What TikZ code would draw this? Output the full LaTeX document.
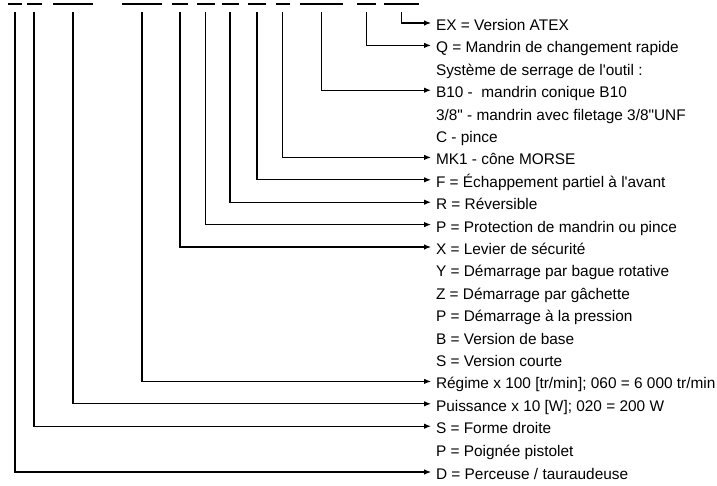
\documentclass[tikz,border=0pt]{standalone}
\usepackage{fontspec}
\setmainfont{Liberation Sans}
\usepackage{tikz}
\usetikzlibrary{arrows.meta, positioning}

\tikzset{
  bar/.style={fill=black, inner sep=0pt, outer sep=0pt, minimum height=2pt},
  lbl/.style={anchor=west, inner xsep=5pt, inner ysep=0pt, outer sep=0pt,
    text height=15pt, text depth=0pt, font=\fontsize{15.4pt}{18pt}\selectfont},
  lead/.style={line width=1.1pt, -{Latex[length=7pt,width=5.5pt]}}
}

\begin{document}
\begin{tikzpicture}[x=1pt, y=-1pt]
  \useasboundingbox (0,0) rectangle (717,485);

  % Code positions
  \node[bar, minimum width=14.7pt] (d1) at (15,4.4) {};
  \node[bar, minimum width=15pt] (d2) at (34,4.4) {};
  \node[bar, minimum width=40.7pt] (d3) at (73,4.4) {};
  \node[bar, minimum width=40pt] (d4) at (142,4.4) {};
  \node[bar, minimum width=16pt] (d5) at (180,4.4) {};
  \node[bar, minimum width=18pt] (d6) at (205.5,4.4) {};
  \node[bar, minimum width=17pt] (d7) at (230,4.4) {};
  \node[bar, minimum width=18pt] (d8) at (257,4.4) {};
  \node[bar, minimum width=14pt] (d9) at (282.5,4.4) {};
  \node[bar, minimum width=43pt] (d10) at (321.5,4.4) {};
  \node[bar, minimum width=19.3pt] (d11) at (366.5,4.4) {};
  \node[bar, minimum width=34.7pt] (d12) at (401.5,4.4) {};

  % Meaning of each position
  \node[lbl] (lEX) at (431, 23.0) {EX = Version ATEX};
  \node[lbl] (lQ) at (431, 45.4) {Q = Mandrin de changement rapide};
  \node[lbl] (lSys) at (431, 67.8) {Système de serrage de l\textquotesingle outil :};
  \node[lbl] (lB10) at (431, 90.2) {B10 - \ mandrin conique B10};
  \node[lbl] (l38) at (431, 112.6) {3/8\textquotedbl{} - mandrin avec filetage 3/8\textquotedbl UNF};
  \node[lbl] (lC) at (431, 135.0) {C - pince};
  \node[lbl] (lMK) at (431, 157.4) {MK1 - cône MORSE};
  \node[lbl] (lF) at (431, 179.8) {F = Échappement partiel à l\textquotesingle avant};
  \node[lbl] (lR) at (431, 202.2) {R = Réversible};
  \node[lbl] (lPr) at (431, 224.6) {P = Protection de mandrin ou pince};
  \node[lbl] (lX) at (431, 247.0) {X = Levier de sécurité};
  \node[lbl] (lY) at (431, 269.4) {Y = Démarrage par bague rotative};
  \node[lbl] (lZ) at (431, 291.8) {Z = Démarrage par gâchette};
  \node[lbl] (lPd) at (431, 314.2) {P = Démarrage à la pression};
  \node[lbl] (lB) at (431, 336.6) {B = Version de base};
  \node[lbl] (lS) at (431, 359.0) {S = Version courte};
  \node[lbl] (lRegime) at (431, 381.4) {Régime x 100 [tr/min]; 060 = 6 000 tr/min};
  \node[lbl] (lPuiss) at (431, 403.8) {Puissance x 10 [W]; 020 = 200 W};
  \node[lbl] (lForme) at (431, 426.2) {S = Forme droite};
  \node[lbl] (lPoign) at (431, 448.6) {P = Poignée pistolet};
  \node[lbl] (lD) at (431, 472.0) {D = Perceuse / tauraudeuse};

  % Leaders
  \draw[lead] ([yshift=-7pt]d1.south) |- (lD.west);
  \draw[lead] ([yshift=-7pt]d2.south) |- (lForme.west);
  \draw[lead] ([yshift=-7pt]d3.south) |- (lPuiss.west);
  \draw[lead] ([yshift=-7pt]d4.south) |- (lRegime.west);
  \draw[lead] ([yshift=-7pt]d5.south) |- (lX.west);
  \draw[lead] ([yshift=-7pt]d6.south) |- (lPr.west);
  \draw[lead] ([yshift=-7pt]d7.south) |- (lR.west);
  \draw[lead] ([yshift=-7pt]d8.south) |- (lF.west);
  \draw[lead] ([yshift=-7pt]d9.south) |- (lMK.west);
  \draw[lead] ([yshift=-7pt]d10.south) |- (lB10.west);
  \draw[lead] ([yshift=-7pt]d11.south) |- (lQ.west);
  \draw[lead] ([yshift=-7pt]d12.south) |- (lEX.west);
\end{tikzpicture}
\end{document}
